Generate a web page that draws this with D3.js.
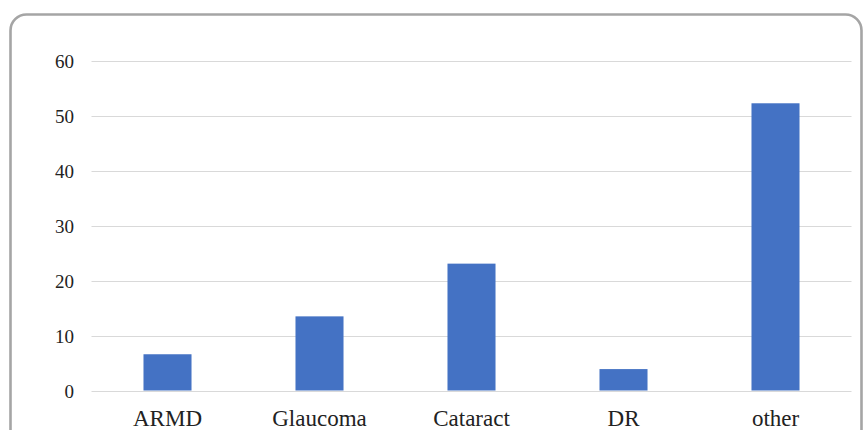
<!DOCTYPE html>
<html>
<head>
<meta charset="utf-8">
<script src="https://cdn.jsdelivr.net/npm/d3@7"></script>
<style>
  html, body { margin: 0; padding: 0; background: #ffffff; }
  svg { display: block; }
</style>
</head>
<body>
<script>
// Eye conditions and their counts
const categories = ["ARMD", "Glaucoma", "Cataract", "DR", "other"];
const values = [6.6, 13.5, 23.1, 3.9, 52.3];
const yTicks = [0, 10, 20, 30, 40, 50, 60];

const W = 864, H = 430;
const FONT = '"Liberation Serif"';
const svg = d3.select("body").append("svg")
  .attr("width", W).attr("height", H);

// Outer rounded frame
svg.append("rect")
  .attr("x", 10.5).attr("y", 14.5)
  .attr("width", 851).attr("height", 440)
  .attr("rx", 16).attr("ry", 16)
  .attr("fill", "#ffffff")
  .attr("stroke", "#a5a5a5")
  .attr("stroke-width", 2.6);

const plot = { left: 91.5, right: 851.5, top: 61, bottom: 390.5 };

const x = d3.scaleBand()
  .domain(categories)
  .range([plot.left, plot.right])
  .paddingInner(0.684)
  .paddingOuter(0.342);

const y = d3.scaleLinear()
  .domain([0, 60])
  .range([plot.bottom, plot.top]);

// Horizontal gridlines
svg.append("g")
  .selectAll("line")
  .data(yTicks)
  .join("line")
  .attr("x1", plot.left).attr("x2", plot.right)
  .attr("y1", d => Math.round(y(d)) + 0.5)
  .attr("y2", d => Math.round(y(d)) + 0.5)
  .attr("stroke", "#d9d9d9")
  .attr("stroke-width", 1);

// Y axis labels
const yAxis = d3.axisLeft(y).tickValues(yTicks).tickSize(0).tickPadding(0);
const gy = svg.append("g")
  .attr("transform", `translate(${74},0)`)
  .call(yAxis);
gy.select(".domain").remove();
gy.selectAll("text")
  .style("font-family", FONT)
  .style("font-size", "19px")
  .style("fill", "#222222")
  .attr("dy", "0.36em");

// Bars
svg.append("g")
  .selectAll("rect")
  .data(categories.map((c, i) => ({ c, v: values[i] })))
  .join("rect")
  .attr("x", d => x(d.c))
  .attr("width", x.bandwidth())
  .attr("y", d => y(d.v))
  .attr("height", d => y(0) - y(d.v))
  .attr("fill", "#4472c4");

// X axis labels
const xAxis = d3.axisBottom(x).tickSize(0).tickPadding(0);
const gx = svg.append("g")
  .attr("transform", `translate(0,${plot.bottom})`)
  .call(xAxis);
gx.select(".domain").remove();
gx.selectAll("text")
  .style("font-family", FONT)
  .style("font-size", "23px")
  .style("fill", "#222222")
  .attr("dy", null)
  .attr("y", 35);
</script>
</body>
</html>
